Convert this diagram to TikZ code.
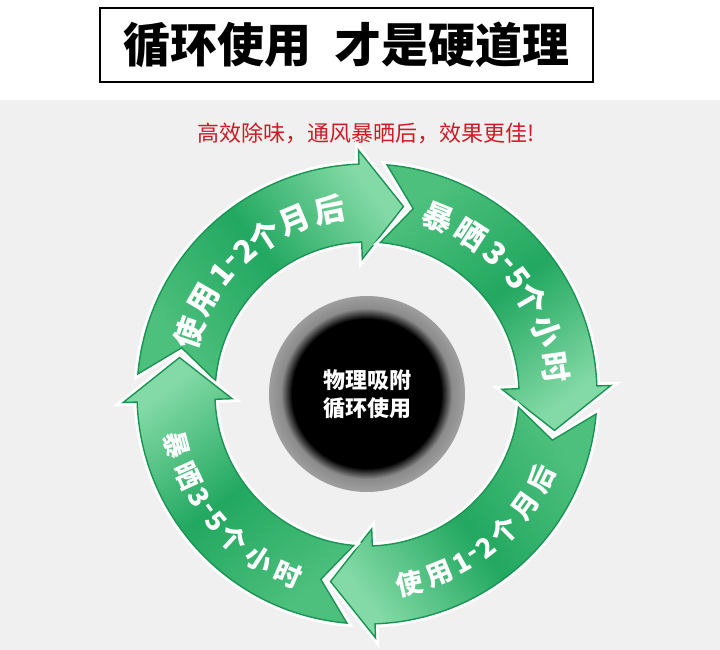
\documentclass[tikz,border=0pt]{standalone}
\usepackage{fontspec}
\newfontfamily\cjk{Noto Sans CJK SC}
\definecolor{ringdark}{RGB}{34,168,96}
\definecolor{ringmid}{RGB}{78,192,126}
\definecolor{ringlight}{RGB}{132,218,166}
\definecolor{ringedge}{RGB}{26,148,82}
\definecolor{backdrop}{RGB}{240,240,240}
\definecolor{slogan}{RGB}{205,28,38}

\begin{document}
\begin{tikzpicture}[x=1pt,y=1pt,
  ringarrow/.style={draw=ringedge,line width=1.4pt,
    top color=ringlight,bottom color=ringmid,middle color=ringdark,
    preaction={draw=white,line width=7pt}},
  toptext/.style={text=white,inner sep=0pt,font=\cjk\bfseries\fontsize{31}{31}\selectfont},
  lowtext/.style={text=white,inner sep=0pt,font=\cjk\bfseries\fontsize{27}{27}\selectfont}]
\useasboundingbox (0,0) rectangle (720,650);
% grey backdrop
\fill[backdrop] (0,0) rectangle (720,550);
% title box
\node[draw,line width=1.2pt,minimum width=493pt,minimum height=74pt,inner sep=0pt,
  font=\cjk\bfseries\fontsize{47}{47}\selectfont] (title) at (346.5,605)
  {循环使用\hspace{0.5em}才是硬道理};
\node[text=slogan,font=\cjk\fontsize{22}{22}\selectfont] (hint) at (366,517)
  {高效除味，通风暴晒后，效果更佳!};
\begin{scope}[shift={(367,256)}]
% four curved arrows
\foreach \a [evaluate=\a as \sa using \a-228] in {175,85,-5,-95}
  \shadedraw[ringarrow,shading angle=\sa]
    (\a:152) -- (\a-9:191) -- (\a:230)
    arc[start angle=\a,end angle=\a-83,radius=230]
    -- (\a-83:244) -- (\a-96:191) -- (\a-83:135) -- (\a-83:152)
    arc[start angle=\a-83,end angle=\a,radius=152] -- cycle;
% labels on the arrows
\foreach \c/\t [count=\i] in {使/161,用/150,1/140.5,-/135.5,2/130.5,个/123,月/112.5,后/101.5}
  \node[toptext,rotate=\t-90] (up\i) at (\t:188) {\c};
\foreach \c/\t [count=\i] in {暴/67.9,晒/57,3/47.5,-/42.6,5/37.5,个/29.9,小/19.4,时/8}
  \node[toptext,rotate=\t-90] (rt\i) at (\t:190) {\c};
\foreach \c/\t [count=\i] in {使/282.6,用/292.1,1/299.4,-/303.6,2/307.9,个/315.1,月/324.6,后/334.1}
  \node[lowtext,rotate=\t+90] (dn\i) at (\t:194) {\c};
\foreach \c/\t [count=\i] in {暴/194.9,晒/204.4,3/211.7,-/215.9,5/220.2,个/227.4,小/236.9,时/246.4}
  \node[lowtext,rotate=\t+90] (lf\i) at (\t:197) {\c};
% centre disc, grey rim darkening into black
\foreach \i [evaluate=\i as \p using 38+0.6*\i, evaluate=\i as \r using 98-\i] in {0,...,11}
  \fill[black!\p] (0,0) circle (\r);
\foreach \i [evaluate=\i as \p using 45+5*\i, evaluate=\i as \r using 86-\i] in {0,...,11}
  \fill[black!\p] (0,0) circle (\r);
\fill[black] (0,0) circle (74);
\node[text=white,align=center,font=\cjk\bfseries\fontsize{22}{28}\selectfont] (core) at (0,0)
  {物理吸附\\循环使用};
\end{scope}
\end{tikzpicture}
\end{document}
